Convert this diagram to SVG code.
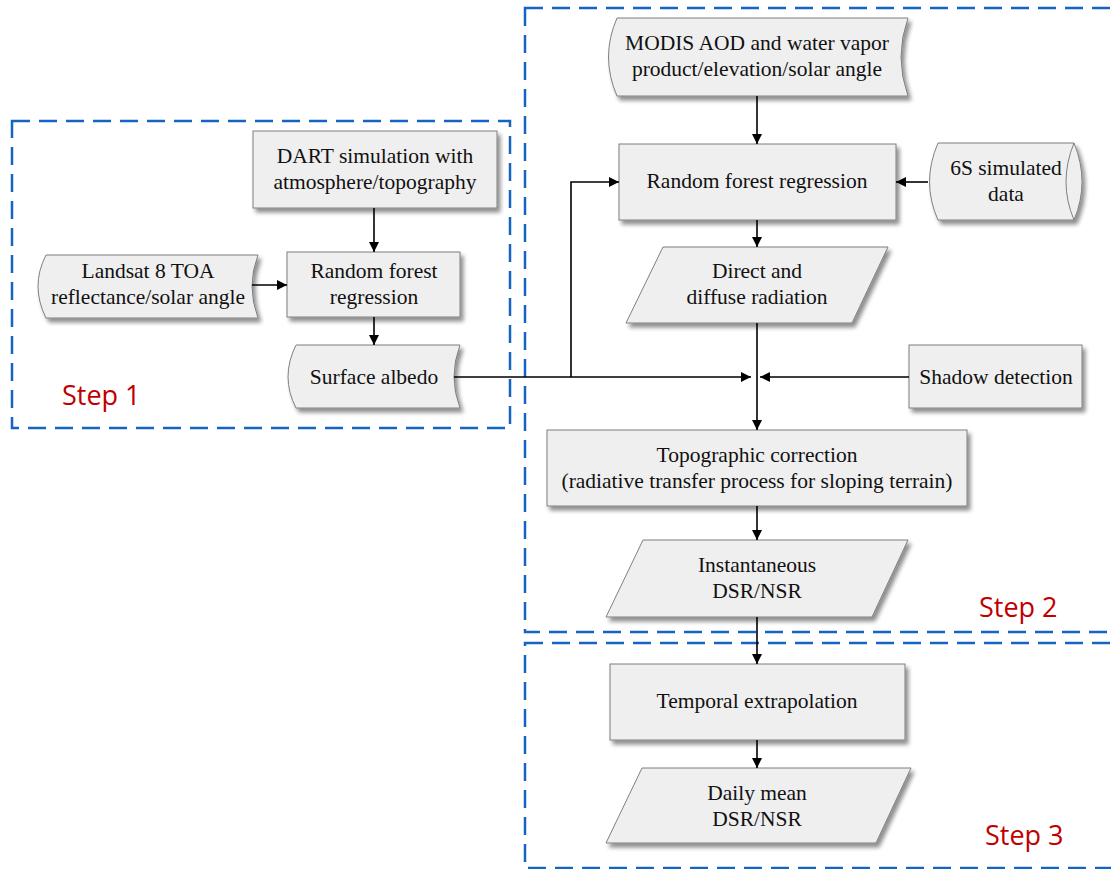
<svg xmlns="http://www.w3.org/2000/svg" width="1111" height="869" viewBox="0 0 1111 869">
<defs>
<filter id="sh" x="-10%" y="-10%" width="125%" height="135%">
<feGaussianBlur in="SourceAlpha" stdDeviation="2"/>
<feOffset dx="3" dy="4" result="b"/>
<feComponentTransfer><feFuncA type="linear" slope="0.45"/></feComponentTransfer>
<feMerge><feMergeNode/><feMergeNode in="SourceGraphic"/></feMerge>
</filter>
<marker id="ar" viewBox="0 0 10 10" refX="10" refY="5" markerWidth="10" markerHeight="10" markerUnits="userSpaceOnUse" orient="auto">
<path d="M0,0 L10,5 L0,10 Z" fill="#000"/>
</marker>
</defs>
<style>
.n{fill:#efefef;stroke:#7f7f7f;stroke-width:1;filter:url(#sh)}
.t{font-family:"Liberation Serif","Times New Roman",serif;font-size:21.5px;fill:#111;text-anchor:middle}
.st{font-family:"Open Sans","Noto Sans",sans-serif;font-size:27px;fill:#c00000}
.d{fill:none;stroke:#1565c0;stroke-width:2.5;stroke-dasharray:18,9}
.c{fill:none;stroke:#000;stroke-width:1.6}
</style>
<rect width="1111" height="869" fill="#fff"/>
<g id="regions">
<rect class="d" x="12" y="121" width="498" height="307"/>
<rect class="d" x="525" y="8" width="600" height="624"/>
<rect class="d" x="525" y="643" width="600" height="225"/>
<text class="st" x="62" y="405">Step 1</text>
<text class="st" x="979" y="617">Step 2</text>
<text class="st" x="985" y="845">Step 3</text>
</g>
<g id="dart">
<rect class="n" x="253" y="131" width="244" height="77"/>
<text class="t" x="375" y="163">DART simulation with</text>
<text class="t" x="375" y="189">atmosphere/topography</text>
</g>
<g id="landsat">
<path class="n" d="M46,255 L258,255 Q246,286 258,318 L46,318 Q30,286 46,255 Z"/>
<text class="t" x="148" y="278">Landsat 8 TOA</text>
<text class="t" x="148" y="304">reflectance/solar angle</text>
</g>
<g id="rf1">
<rect class="n" x="287" y="252" width="173" height="65"/>
<text class="t" x="374" y="278">Random forest</text>
<text class="t" x="374" y="304">regression</text>
</g>
<g id="albedo">
<path class="n" d="M296,345 L460,345 Q448,377 460,408 L296,408 Q280,377 296,345 Z"/>
<text class="t" x="374" y="384">Surface albedo</text>
</g>
<g id="modis">
<path class="n" d="M617,18 L908,18 Q894,57 908,96 L617,96 Q600,57 617,18 Z"/>
<text class="t" x="757" y="50">MODIS AOD and water vapor</text>
<text class="t" x="757" y="76">product/elevation/solar angle</text>
</g>
<g id="rf2">
<rect class="n" x="619" y="144" width="277" height="76"/>
<text class="t" x="757" y="188">Random forest regression</text>
</g>
<g id="s6">
<path class="n" d="M938,143 L1074,143 Q1090,182 1074,220 L938,220 Q921,182 938,143 Z"/>
<path d="M1074,143 Q1058,182 1074,220" fill="none" stroke="#7f7f7f" stroke-width="1"/>
<text class="t" x="1006" y="175">6S simulated</text>
<text class="t" x="1006" y="201">data</text>
</g>
<g id="radiation">
<path class="n" d="M663,247 L888,247 L852,323 L626,323 Z"/>
<text class="t" x="757" y="278">Direct and</text>
<text class="t" x="757" y="304">diffuse radiation</text>
</g>
<g id="shadow">
<rect class="n" x="909" y="345" width="173" height="63"/>
<text class="t" x="996" y="384">Shadow detection</text>
</g>
<g id="topo">
<rect class="n" x="547" y="430" width="420" height="76"/>
<text class="t" x="757" y="462">Topographic correction</text>
<text class="t" x="757" y="488">(radiative transfer process for sloping terrain)</text>
</g>
<g id="instant">
<path class="n" d="M643,540 L908,540 L872,617 L606,617 Z"/>
<text class="t" x="757" y="572">Instantaneous</text>
<text class="t" x="757" y="598">DSR/NSR</text>
</g>
<g id="temporal">
<rect class="n" x="610" y="664" width="295" height="76"/>
<text class="t" x="757" y="708">Temporal extrapolation</text>
</g>
<g id="daily">
<path class="n" d="M642,768 L911,768 L876,843 L606,843 Z"/>
<text class="t" x="757" y="800">Daily mean</text>
<text class="t" x="757" y="826">DSR/NSR</text>
</g>
<g id="connectors">
<path class="c" d="M374,208 L374,252" marker-end="url(#ar)"/>
<path class="c" d="M252,285 L287,285" marker-end="url(#ar)"/>
<path class="c" d="M374,317 L374,345" marker-end="url(#ar)"/>
<path class="c" d="M454,377 L751,377" marker-end="url(#ar)"/>
<path class="c" d="M571,377 L571,182 L619,182" marker-end="url(#ar)"/>
<path class="c" d="M757,96 L757,144" marker-end="url(#ar)"/>
<path class="c" d="M928,182 L896,182" marker-end="url(#ar)"/>
<path class="c" d="M757,220 L757,247" marker-end="url(#ar)"/>
<path class="c" d="M757,323 L757,430" marker-end="url(#ar)"/>
<path class="c" d="M909,377 L760,377" marker-end="url(#ar)"/>
<path class="c" d="M757,506 L757,540" marker-end="url(#ar)"/>
<path class="c" d="M757,617 L757,664" marker-end="url(#ar)"/>
<path class="c" d="M757,740 L757,768" marker-end="url(#ar)"/>
</g>
</svg>
